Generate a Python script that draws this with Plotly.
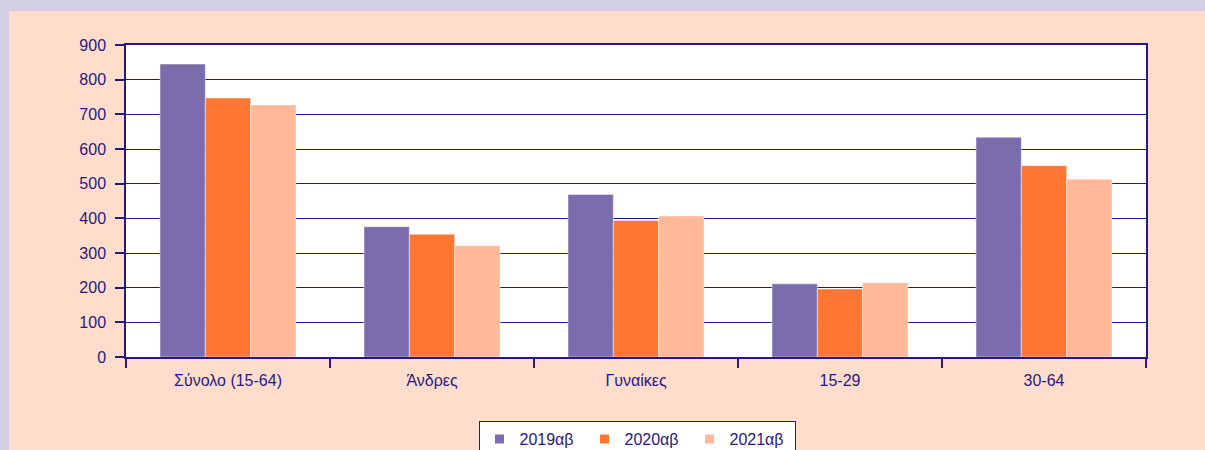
import plotly.graph_objects as go

# Categories and series values (thousands)
categories = ["Σύνολο (15-64)", "Άνδρες", "Γυναίκες", "15-29", "30-64"]
series_names = ["2019αβ", "2020αβ", "2021αβ"]
values_2019 = [845, 376, 469, 211, 634]
values_2020 = [747, 354, 394, 196, 552]
values_2021 = [727, 321, 407, 214, 513]
y_ticks = [0, 100, 200, 300, 400, 500, 600, 700, 800, 900]

colors = ["#7B6DAB", "#FF7733", "#FFB898"]
ink = "#2A1880"
font = "Liberation Sans, Arial, sans-serif"

fig = go.Figure()
for name, vals, col in zip(series_names, [values_2019, values_2020, values_2021], colors):
    fig.add_trace(go.Bar(
        x=categories, y=vals, name=name, showlegend=False,
        marker=dict(color=col, line=dict(color="rgba(255,255,255,0.45)", width=1)),
    ))
# small square legend keys
for name, col in zip(series_names, colors):
    fig.add_trace(go.Scatter(
        x=[None], y=[None], mode="markers", name=name,
        marker=dict(symbol="square", size=9, color=col),
    ))

W, H = 1205, 450
ml, mr, mt, mb = 126, 59, 45, 93
pw, ph = W - ml - mr, H - mt - mb

def px_x(x):
    return (x - ml) / pw

def px_y(y):
    return (H - mb - y) / ph

shapes = [
    # lavender frame strips
    dict(type="rect", xref="paper", yref="paper", x0=px_x(0), x1=px_x(W), y0=px_y(11), y1=px_y(0),
         fillcolor="#D4CEE4", line=dict(width=0), layer="below"),
    dict(type="rect", xref="paper", yref="paper", x0=px_x(0), x1=px_x(9), y0=px_y(H), y1=px_y(0),
         fillcolor="#D4CEE4", line=dict(width=0), layer="below"),
    # white plotting area
    dict(type="rect", xref="paper", yref="paper", x0=0, x1=1, y0=0, y1=1,
         fillcolor="white", line=dict(width=0), layer="below"),
]

fig.update_layout(
    width=W, height=H,
    margin=dict(l=ml, r=mr, t=mt, b=mb, pad=0, autoexpand=False),
    paper_bgcolor="#FFDDCD",
    plot_bgcolor="white",
    barmode="group", bargap=0.333, bargroupgap=0,
    font=dict(family=font, size=16, color=ink),
    shapes=shapes,
    legend=dict(
        orientation="h", x=px_x(637), xanchor="center", y=px_y(421), yanchor="top",
        bgcolor="white", bordercolor=ink, borderwidth=1,
        font=dict(family=font, size=16, color=ink),
        itemwidth=30, entrywidth=60, entrywidthmode="pixels",
    ),
    xaxis=dict(
        type="category", tickson="boundaries", ticks="outside", ticklen=9, tickwidth=1.5,
        tickcolor=ink, showline=True, linecolor=ink, linewidth=1.5, mirror=True,
        showgrid=False, tickfont=dict(size=16, color=ink), ticklabelstandoff=8,
    ),
    yaxis=dict(
        range=[0, 900], tickmode="array", tickvals=y_ticks, ticks="outside", ticklen=9,
        tickwidth=1.5, tickcolor=ink, showline=True, linecolor=ink, linewidth=1.5, mirror=True,
        showgrid=True, gridcolor=ink, gridwidth=1.2, zeroline=False,
        tickfont=dict(size=16, color=ink), ticklabelstandoff=6,
    ),
)

fig.write_html("out.html")
